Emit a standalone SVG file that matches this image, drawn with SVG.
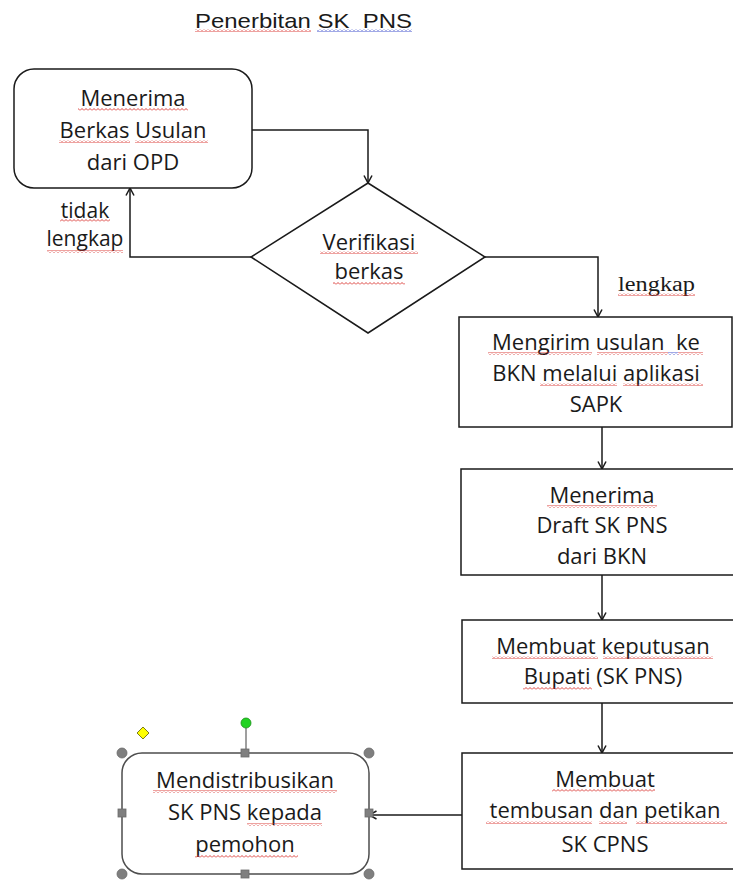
<svg xmlns="http://www.w3.org/2000/svg" width="733" height="880" viewBox="0 0 733 880">
<style>
  .bg { fill: #ffffff; }
  .box { fill: #ffffff; stroke: #1a1a1a; stroke-width: 1.5; }
  .sel { fill: #ffffff; stroke: #4d4d4d; stroke-width: 1.5; }
  .t { font-family: "Open Sans", "Liberation Sans", sans-serif; font-size: 22px; fill: #1a1a1a; text-anchor: middle; }
  .lbl { font-family: "Open Sans", "Liberation Sans", sans-serif; font-size: 21px; fill: #1a1a1a; text-anchor: middle; }
  .title { font-family: "Liberation Sans", Arial, sans-serif; font-size: 21px; fill: #1a1a1a; }
  .serif { font-family: "Liberation Serif", "Times New Roman", serif; font-size: 20px; fill: #1a1a1a; }
  .conn { fill: none; stroke: #1a1a1a; stroke-width: 1.5; marker-end: url(#arrow); }
  .sq-r { fill: url(#squigRed); }
  .sq-b { fill: url(#squigBlue); }
  .handle { fill: #7f7f7f; stroke: #6a6a6a; stroke-width: 0.8; }
</style>
<defs>
  <marker id="arrow" viewBox="0 0 10 10" refX="9.5" refY="5" markerWidth="10" markerHeight="10" markerUnits="userSpaceOnUse" orient="auto">
    <path d="M2,1 L9.5,5 L2,9" fill="none" stroke="#1a1a1a" stroke-width="1.5"/>
  </marker>
  <pattern id="squigRed" patternUnits="userSpaceOnUse" width="4" height="3">
    <path d="M0,2.5 L2,0.5 L4,2.5" fill="none" stroke="#d9302c" stroke-width="0.9"/>
  </pattern>
  <pattern id="squigBlue" patternUnits="userSpaceOnUse" width="4" height="3">
    <path d="M0,2.5 L2,0.5 L4,2.5" fill="none" stroke="#2f3fc8" stroke-width="0.9"/>
  </pattern>
</defs>
<rect class="bg" x="0" y="0" width="733" height="880"/>

<g id="title">
  <text class="title" x="195" y="28" textLength="217" lengthAdjust="spacingAndGlyphs" xml:space="preserve">Penerbitan SK  PNS</text>
</g>

<g id="connectors">
  <path class="conn" d="M252,130 H368 V183"/>
  <path class="conn" d="M251,257 H130 V188"/>
  <path class="conn" d="M485,257 H598 V317"/>
  <path class="conn" d="M602,427 V469"/>
  <path class="conn" d="M602,575 V620"/>
  <path class="conn" d="M602,703 V753"/>
  <path class="conn" d="M462,815 H369"/>
</g>

<g id="label-tidak-lengkap">
  <text class="lbl" x="85" y="218">tidak</text>
  <text class="lbl" x="85" y="246">lengkap</text>
</g>
<g id="label-lengkap">
  <text class="serif" x="618" y="291" textLength="77" lengthAdjust="spacingAndGlyphs">lengkap</text>
</g>

<g id="n1">
  <rect class="box" x="14" y="69" width="238" height="119" rx="20" ry="20"/>
  <text class="t" x="133" y="106">Menerima</text>
  <text class="t" x="133" y="138">Berkas Usulan</text>
  <text class="t" x="133" y="170">dari OPD</text>
</g>

<g id="n2">
  <polygon class="box" points="368,183 485,257 368,333 251,257"/>
  <text class="t" x="369" y="250">Verifikasi</text>
  <text class="t" x="369" y="279">berkas</text>
</g>

<g id="n3">
  <rect class="box" x="459" y="317" width="273" height="110"/>
  <text class="t" x="596" y="350" xml:space="preserve">Mengirim usulan  ke</text>
  <text class="t" x="596" y="381">BKN melalui aplikasi</text>
  <text class="t" x="596" y="412">SAPK</text>
</g>

<g id="n4">
  <rect class="box" x="461" y="469" width="280" height="106"/>
  <text class="t" x="602" y="503">Menerima</text>
  <text class="t" x="602" y="533">Draft SK PNS</text>
  <text class="t" x="602" y="564">dari BKN</text>
</g>

<g id="n5">
  <rect class="box" x="462" y="620" width="280" height="83"/>
  <text class="t" x="603" y="654">Membuat keputusan</text>
  <text class="t" x="603" y="684">Bupati (SK PNS)</text>
</g>

<g id="n6">
  <rect class="box" x="462" y="753" width="280" height="116"/>
  <text class="t" x="605" y="787">Membuat</text>
  <text class="t" x="605" y="818">tembusan dan petikan</text>
  <text class="t" x="605" y="852">SK CPNS</text>
</g>

<g id="n7">
  <rect class="sel" x="122" y="753" width="247" height="121" rx="20" ry="20"/>
  <text class="t" x="245" y="788">Mendistribusikan</text>
  <text class="t" x="245" y="820">SK PNS kepada</text>
  <text class="t" x="245" y="852">pemohon</text>
</g>

<g id="selection-handles">
  <line x1="246" y1="728" x2="246" y2="753" stroke="#7f7f7f" stroke-width="1.5"/>
  <circle cx="246" cy="723" r="5" fill="#22d322" stroke="#1b8f1b" stroke-width="0.8"/>
  <polygon points="143,727 149,733 143,739 137,733" fill="#ffff00" stroke="#5a5a00" stroke-width="0.8"/>
  <circle class="handle" cx="122" cy="753" r="5"/>
  <circle class="handle" cx="369" cy="753" r="5"/>
  <circle class="handle" cx="122" cy="874" r="5"/>
  <circle class="handle" cx="369" cy="874" r="5"/>
  <rect class="handle" x="241" y="749" width="8" height="8"/>
  <rect class="handle" x="241" y="870" width="8" height="8"/>
  <rect class="handle" x="118" y="809" width="8" height="8"/>
  <rect class="handle" x="365" y="809" width="8" height="8"/>
</g>

<g id="spellcheck-underlines">
  <rect class="sq-r" x="195" y="29" width="116" height="3"/>
  <rect class="sq-b" x="317" y="29" width="95" height="3"/>
  <rect class="sq-r" x="78" y="108" width="110" height="3"/>
  <rect class="sq-r" x="59" y="140" width="71" height="3"/>
  <rect class="sq-r" x="135" y="140" width="73" height="3"/>
  <rect class="sq-r" x="60" y="219" width="50" height="3"/>
  <rect class="sq-r" x="47" y="250" width="76" height="3"/>
  <rect class="sq-r" x="320" y="251" width="98" height="3"/>
  <rect class="sq-r" x="333" y="282" width="72" height="3"/>
  <rect class="sq-r" x="618" y="293" width="77" height="3"/>
  <rect class="sq-r" x="488" y="352" width="104" height="3"/>
  <rect class="sq-r" x="597" y="352" width="71" height="3"/>
  <rect class="sq-b" x="668" y="352" width="10" height="3"/>
  <rect class="sq-r" x="678" y="352" width="25" height="3"/>
  <rect class="sq-r" x="540" y="383" width="77" height="3"/>
  <rect class="sq-r" x="623" y="383" width="80" height="3"/>
  <rect class="sq-r" x="547" y="505" width="110" height="3"/>
  <rect class="sq-r" x="492" y="656" width="106" height="3"/>
  <rect class="sq-r" x="603" y="656" width="110" height="3"/>
  <rect class="sq-r" x="523" y="687" width="69" height="3"/>
  <rect class="sq-r" x="552" y="789" width="103" height="3"/>
  <rect class="sq-r" x="486" y="821" width="106" height="3"/>
  <rect class="sq-r" x="599" y="821" width="28" height="3"/>
  <rect class="sq-r" x="636" y="821" width="91" height="3"/>
  <rect class="sq-r" x="153" y="790" width="184" height="3"/>
  <rect class="sq-r" x="247" y="823" width="75" height="3"/>
  <rect class="sq-r" x="195" y="855" width="103" height="3"/>
</g>
</svg>
